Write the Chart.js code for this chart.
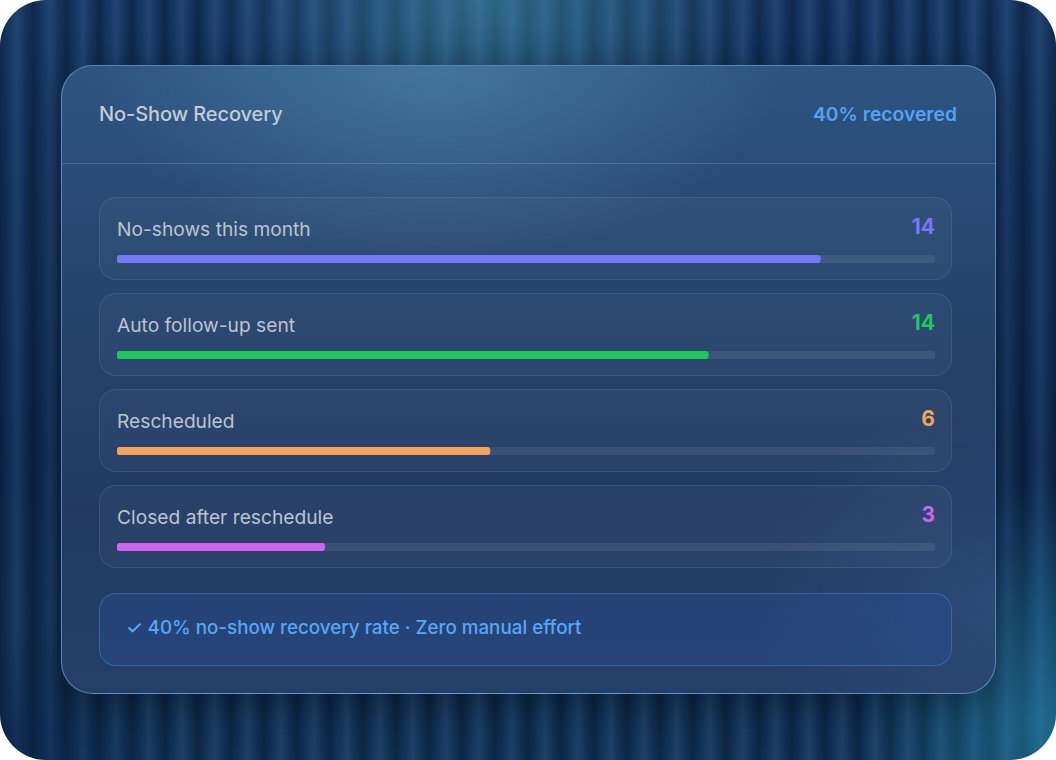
<!DOCTYPE html>
<html>
<head>
<meta charset="utf-8">
<script src="https://cdn.jsdelivr.net/npm/chart.js@4"></script>
<style>
  html, body { margin: 0; padding: 0; background: #fff; }
  body { width: 1056px; height: 760px; overflow: hidden; font-family: Inter, "Noto Sans", sans-serif; }
  .page {
    position: absolute; left: 0; top: 0; width: 1056px; height: 760px;
    border-radius: 46px; overflow: hidden;
    background:
      radial-gradient(ellipse 380px 260px at 46% 0%, rgba(70,150,175,0.55), transparent 75%),
      radial-gradient(ellipse 260px 320px at 100% 95%, rgba(40,140,175,0.6), transparent 75%),
      radial-gradient(ellipse 240px 200px at 0% 100%, rgba(10,30,70,0.6), transparent 75%),
      repeating-linear-gradient(90deg, rgba(0,0,0,0.3) 0px, rgba(0,0,0,0.05) 9px, rgba(255,255,255,0.05) 17px, rgba(0,0,0,0.12) 26px, rgba(0,0,0,0.3) 33px),
      linear-gradient(180deg, #173a6a, #102c58 60%, #133760);
  }
  .card {
    position: absolute; left: 61px; top: 65px; width: 933px; height: 627px;
    border-radius: 32px; border: 1px solid rgba(140,190,240,0.55);
    background:
      radial-gradient(ellipse 460px 260px at 40% 0%, rgba(90,150,190,0.5), transparent 75%),
      radial-gradient(ellipse 320px 260px at 100% 85%, rgba(70,120,170,0.22), transparent 75%),
      linear-gradient(180deg, #2d5481 0%, #26446d 35%, #223a63 70%, #253f69 100%);
    box-shadow: 0 10px 40px rgba(0,0,0,0.35);
  }
  .divider { position: absolute; left: 0; right: 0; top: 97px; height: 1px; background: rgba(160,200,240,0.25); }
  .title { position: absolute; left: 37px; top: 36px; font-size: 20px; font-weight: 500; color: #c3ccd8; letter-spacing: -0.1px; }
  .badge { position: absolute; right: 38px; top: 36px; font-size: 19.3px; font-weight: 600; color: #55a2f5; }
  .row {
    position: absolute; left: 37px; width: 851px; height: 81px;
    border-radius: 17px; border: 1px solid rgba(170,200,235,0.14);
    background: rgba(255,255,255,0.035);
  }
  .row .label { position: absolute; left: 17px; top: 19px; font-size: 19.2px; font-weight: 400; color: #bcc4d0; }
  .row .value { position: absolute; right: 16px; top: 16px; font-size: 21px; font-weight: 700; }
  .row canvas { position: absolute; left: 17px; top: 57px; }
  .footer {
    position: absolute; left: 37px; top: 527px; width: 851px; height: 71px;
    border-radius: 17px; border: 1px solid rgba(90,160,240,0.35);
    background: rgba(40,80,150,0.35);
  }
  .footer span { position: absolute; left: 26px; top: 22px; font-size: 18.8px; font-weight: 500; color: #5aa6f7; }
</style>
</head>
<body>
<div class="page">
  <div class="card" id="card">
    <div class="title">No-Show Recovery</div>
    <div class="badge">40% recovered</div>
    <div class="divider"></div>
    <div class="footer"><span>✓ 40% no-show recovery rate · Zero manual effort</span></div>
  </div>
</div>
<script>
const categories = ["No-shows this month", "Auto follow-up sent", "Rescheduled", "Closed after reschedule"];
const counts = [14, 14, 6, 3];
const fillPercent = [86, 72.3, 45.6, 25.4];
const colors = ["#7579f6", "#22c55e", "#f2a35e", "#cd66ef"];

const card = document.getElementById("card");

categories.forEach((name, i) => {
  const row = document.createElement("div");
  row.className = "row";
  row.style.top = (131 + i * 96) + "px";

  const label = document.createElement("div");
  label.className = "label";
  label.textContent = name;
  row.appendChild(label);

  const value = document.createElement("div");
  value.className = "value";
  value.style.color = colors[i];
  value.textContent = counts[i];
  row.appendChild(value);

  const canvas = document.createElement("canvas");
  canvas.width = 818;
  canvas.height = 8;
  row.appendChild(canvas);
  card.appendChild(row);

  // one-bar horizontal chart: fill dataset drawn over the track
  new Chart(canvas.getContext("2d"), {
    type: "bar",
    data: {
      labels: [name],
      datasets: [
        {
          data: [fillPercent[i]],
          backgroundColor: colors[i],
          borderRadius: 4,
          borderSkipped: false,
          barPercentage: 1,
          categoryPercentage: 1,
          grouped: false,
        },
        {
          data: [100],
          backgroundColor: "rgba(255,255,255,0.08)",
          borderRadius: 4,
          borderSkipped: false,
          barPercentage: 1,
          categoryPercentage: 1,
          grouped: false,
        },
      ],
    },
    options: {
      indexAxis: "y",
      responsive: false,
      animation: false,
      devicePixelRatio: 1,
      layout: { padding: 0 },
      plugins: { legend: { display: false }, tooltip: { enabled: false } },
      scales: {
        x: { display: false, min: 0, max: 100 },
        y: { display: false },
      },
    },
  });
});
</script>
</body>
</html>
